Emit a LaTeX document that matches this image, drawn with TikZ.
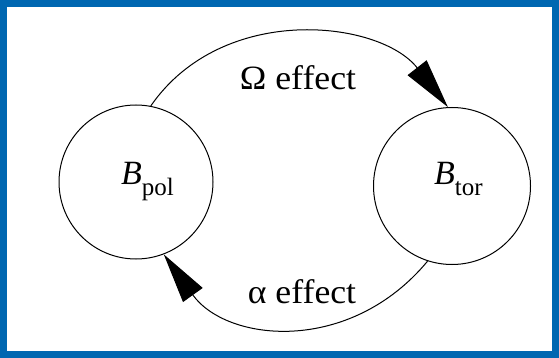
\documentclass[tikz,border=0pt]{standalone}
\usepackage{fontspec}
\setmainfont{Liberation Serif}
\newfontfamily\effectfont[FakeStretch=1.05]{Liberation Serif}
\usetikzlibrary{arrows.meta}
\definecolor{framebl}{RGB}{0,103,177}
\tikzset{
  field/.style={circle, draw, line width=1pt, minimum size=154pt, inner sep=0pt},
  fieldtext/.style={anchor=base west, inner sep=0pt},
  effect/.style={anchor=base, inner sep=0pt, font=\effectfont\fontsize{34}{34}\selectfont},
  feedback/.style={line width=1pt, -{Triangle[length=50pt,width=24pt]}},
}
\newcommand{\fieldname}[2]{{\fontsize{34}{34}\selectfont\itshape #1}\raisebox{-10pt}{\fontsize{25}{25}\selectfont #2}}

\begin{document}
\begin{tikzpicture}[x=1pt,y=-1pt]

  % frame
  \fill[framebl] (0,0) rectangle (559,358);
  \fill[white] (7,7) rectangle (552,351);

  % the two fields
  \node[field] (pol) at (136,182) {};
  \node[field, minimum size=157pt] (tor) at (452,186) {};
  \node[fieldtext] (polname) at (121,185) {\fieldname{B}{pol}};
  \node[fieldtext] (torname) at (434,185) {\fieldname{B}{tor}};

  % the dynamo loop
  \draw[feedback] (pol.79) .. controls +(72,-104) and +(-68,-87) .. (tor.93);
  \draw[feedback] (tor.-108) .. controls +(-78,94) and +(63,88) .. (pol.-69);

  \node[effect] (omega) at (298,90) {Ω effect};
  \node[effect] (alpha) at (302,303) {α effect};

\end{tikzpicture}
\end{document}
